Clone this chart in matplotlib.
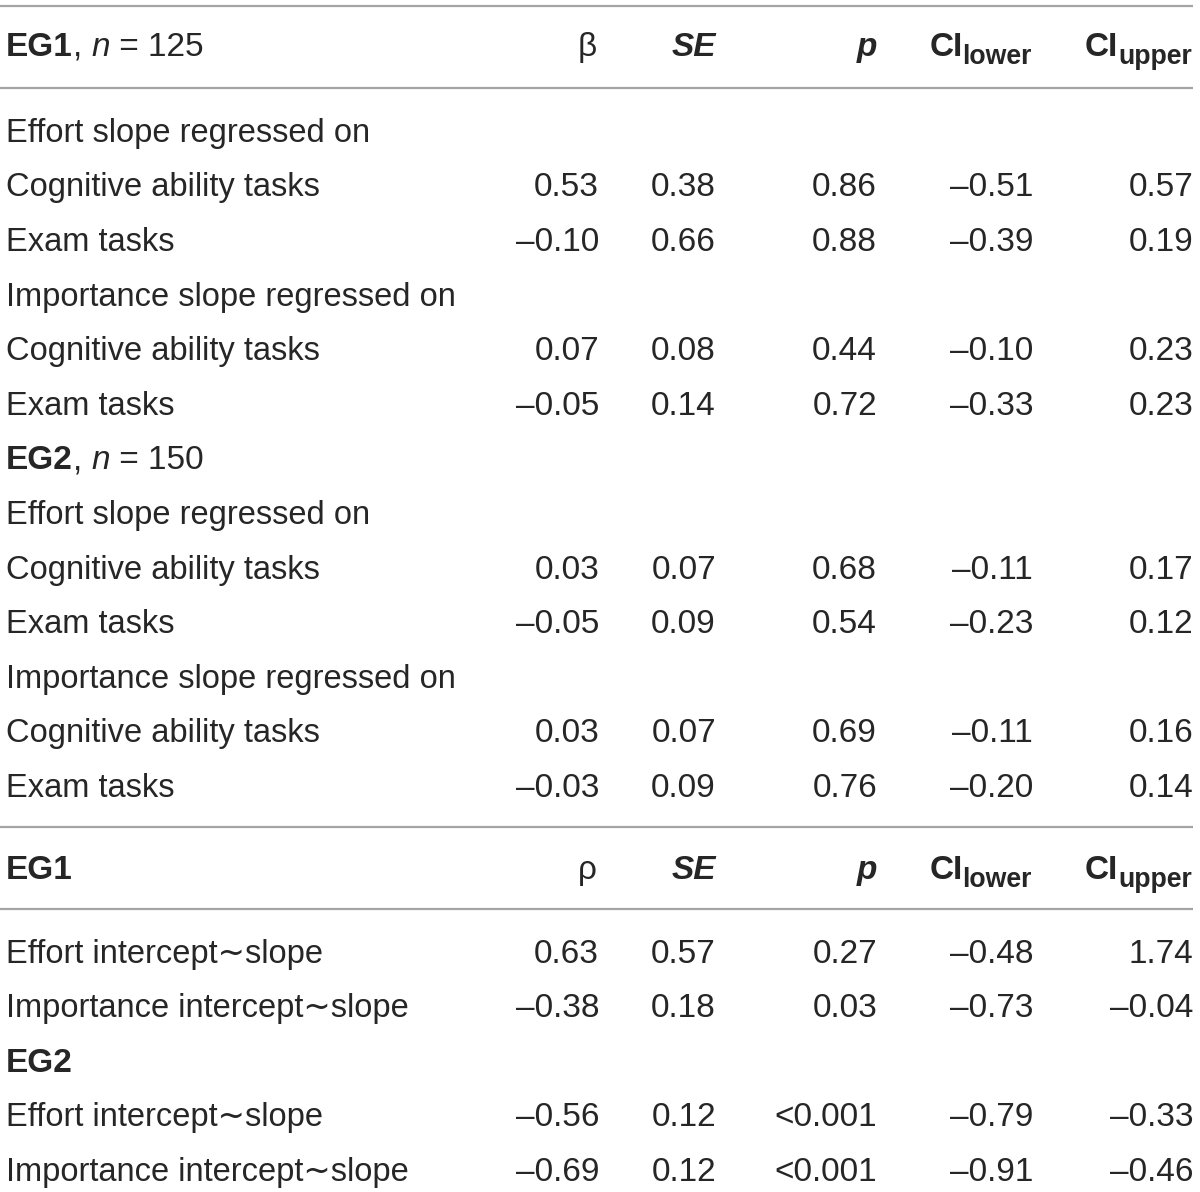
import matplotlib
matplotlib.use("Agg")
import matplotlib.pyplot as plt

# ---- data ----
row_labels = [
    "Effort slope regressed on",
    "Cognitive ability tasks", "Exam tasks",
    "Importance slope regressed on",
    "Cognitive ability tasks", "Exam tasks",
    "EG2",
    "Effort slope regressed on",
    "Cognitive ability tasks", "Exam tasks",
    "Importance slope regressed on",
    "Cognitive ability tasks", "Exam tasks",
]
row_kind = ["section", "data", "data", "section", "data", "data", "group",
            "section", "data", "data", "section", "data", "data"]
beta = [None, 0.53, -0.10, None, 0.07, -0.05, None, None, 0.03, -0.05, None, 0.03, -0.03]
se = [None, 0.38, 0.66, None, 0.08, 0.14, None, None, 0.07, 0.09, None, 0.07, 0.09]
pval = [None, "0.86", "0.88", None, "0.44", "0.72", None, None, "0.68", "0.54", None, "0.69", "0.76"]
ci_lower = [None, -0.51, -0.39, None, -0.10, -0.33, None, None, -0.11, -0.23, None, -0.11, -0.20]
ci_upper = [None, 0.57, 0.19, None, 0.23, 0.23, None, None, 0.17, 0.12, None, 0.16, 0.14]
group_n = {"EG1": 125, "EG2": 150}

cor_labels = ["Effort intercept\u223cslope", "Importance intercept\u223cslope", "EG2",
              "Effort intercept\u223cslope", "Importance intercept\u223cslope"]
cor_kind = ["data", "data", "groupbold", "data", "data"]
rho = [0.63, -0.38, None, -0.56, -0.69]
cor_se = [0.57, 0.18, None, 0.12, 0.12]
cor_p = ["0.27", "0.03", None, "<0.001", "<0.001"]
cor_ci_lower = [-0.48, -0.73, None, -0.79, -0.91]
cor_ci_upper = [1.74, -0.04, None, -0.33, -0.46]

# ---- layout ----
W, H = 1200, 1192
FAM = ["Liberation Sans", "DejaVu Sans"]
FS = 24
FS_LAB = 23.5
COL = "#262626"
LINE_C = "#a4a4a4"
col_right = [599, 716, 877, 1033, 1193]
row_step = 54.6

fig = plt.figure(figsize=(W / 100, H / 100), dpi=100)
ax = fig.add_axes([0, 0, 1, 1])
ax.set_xlim(0, W)
ax.set_ylim(H, 0)
ax.axis("off")
renderer = fig.canvas.get_renderer()


def width_of(s, **kw):
    t = ax.text(0, 0, s, fontsize=kw.get("fontsize", FS), family=FAM,
                fontweight=kw.get("fontweight", "normal"),
                fontstyle=kw.get("fontstyle", "normal"))
    bb = t.get_window_extent(renderer=renderer)
    t.remove()
    return bb.width


def runs(x, y, parts, ha="left"):
    widths = [width_of(s, **kw) for s, kw, dy in parts]
    total = sum(widths)
    cx = x - total if ha == "right" else x
    for (s, kw, dy), w in zip(parts, widths):
        ax.text(cx, y + dy, s, fontsize=kw.get("fontsize", FS), family=FAM,
                fontweight=kw.get("fontweight", "normal"),
                fontstyle=kw.get("fontstyle", "normal"),
                color=COL, ha="left", va="baseline")
        cx += w


def fmt(v):
    if v is None:
        return ""
    if isinstance(v, str):
        return v
    s = f"{v:.2f}"
    return s.replace("-", "\u2013")


def hline(y):
    ax.plot([0, 1193], [y, y], color=LINE_C, lw=1.6, solid_capstyle="butt")


def header(y, parts_left, first_sym):
    runs(6, y, parts_left)
    B = dict(fontweight="bold")
    BI = dict(fontweight="bold", fontstyle="italic")
    SUB = dict(fontweight="bold", fontsize=FS * 0.8)
    runs(col_right[0] - 2, y, [(first_sym, {}, 0)], ha="right")
    runs(col_right[1], y, [("SE", BI, 0)], ha="right")
    runs(col_right[2], y, [("p", BI, 0)], ha="right")
    runs(col_right[3] - 1, y, [("CI", B, 0), ("lower", SUB, 8)], ha="right")
    runs(col_right[4] - 1, y, [("CI", B, 0), ("upper", SUB, 8)], ha="right")


def label(y, text):
    ax.text(6, y, text, fontsize=FS_LAB, family=FAM, color=COL, ha="left", va="baseline")


def data_row(y, lab, vals):
    label(y, lab)
    for xr, v in zip(col_right, vals):
        ax.text(xr, y, fmt(v), fontsize=FS, family=FAM, color=COL, ha="right", va="baseline")


def group_parts(name):
    return [(name, dict(fontweight="bold"), 0), (", ", {}, 0),
            ("n", dict(fontstyle="italic"), 0), (f" = {group_n[name]}", {}, 0)]


# top block
hline(6)
header(56, group_parts("EG1"), "\u03b2")
hline(88)
base = 141.8
for i, lab in enumerate(row_labels):
    y = base + i * row_step
    if row_kind[i] == "data":
        data_row(y, lab, [beta[i], se[i], pval[i], ci_lower[i], ci_upper[i]])
    elif row_kind[i] == "group":
        runs(6, y, group_parts(lab))
    else:
        label(y, lab)

# bottom block
hline(827)
header(879, [("EG1", dict(fontweight="bold"), 0)], "\u03c1")
hline(909)
base2 = 962.6
for i, lab in enumerate(cor_labels):
    y = base2 + i * row_step
    if cor_kind[i] == "data":
        data_row(y, lab, [rho[i], cor_se[i], cor_p[i], cor_ci_lower[i], cor_ci_upper[i]])
    else:
        runs(6, y, [(lab, dict(fontweight="bold"), 0)])

fig.savefig("out.png", dpi=100)
